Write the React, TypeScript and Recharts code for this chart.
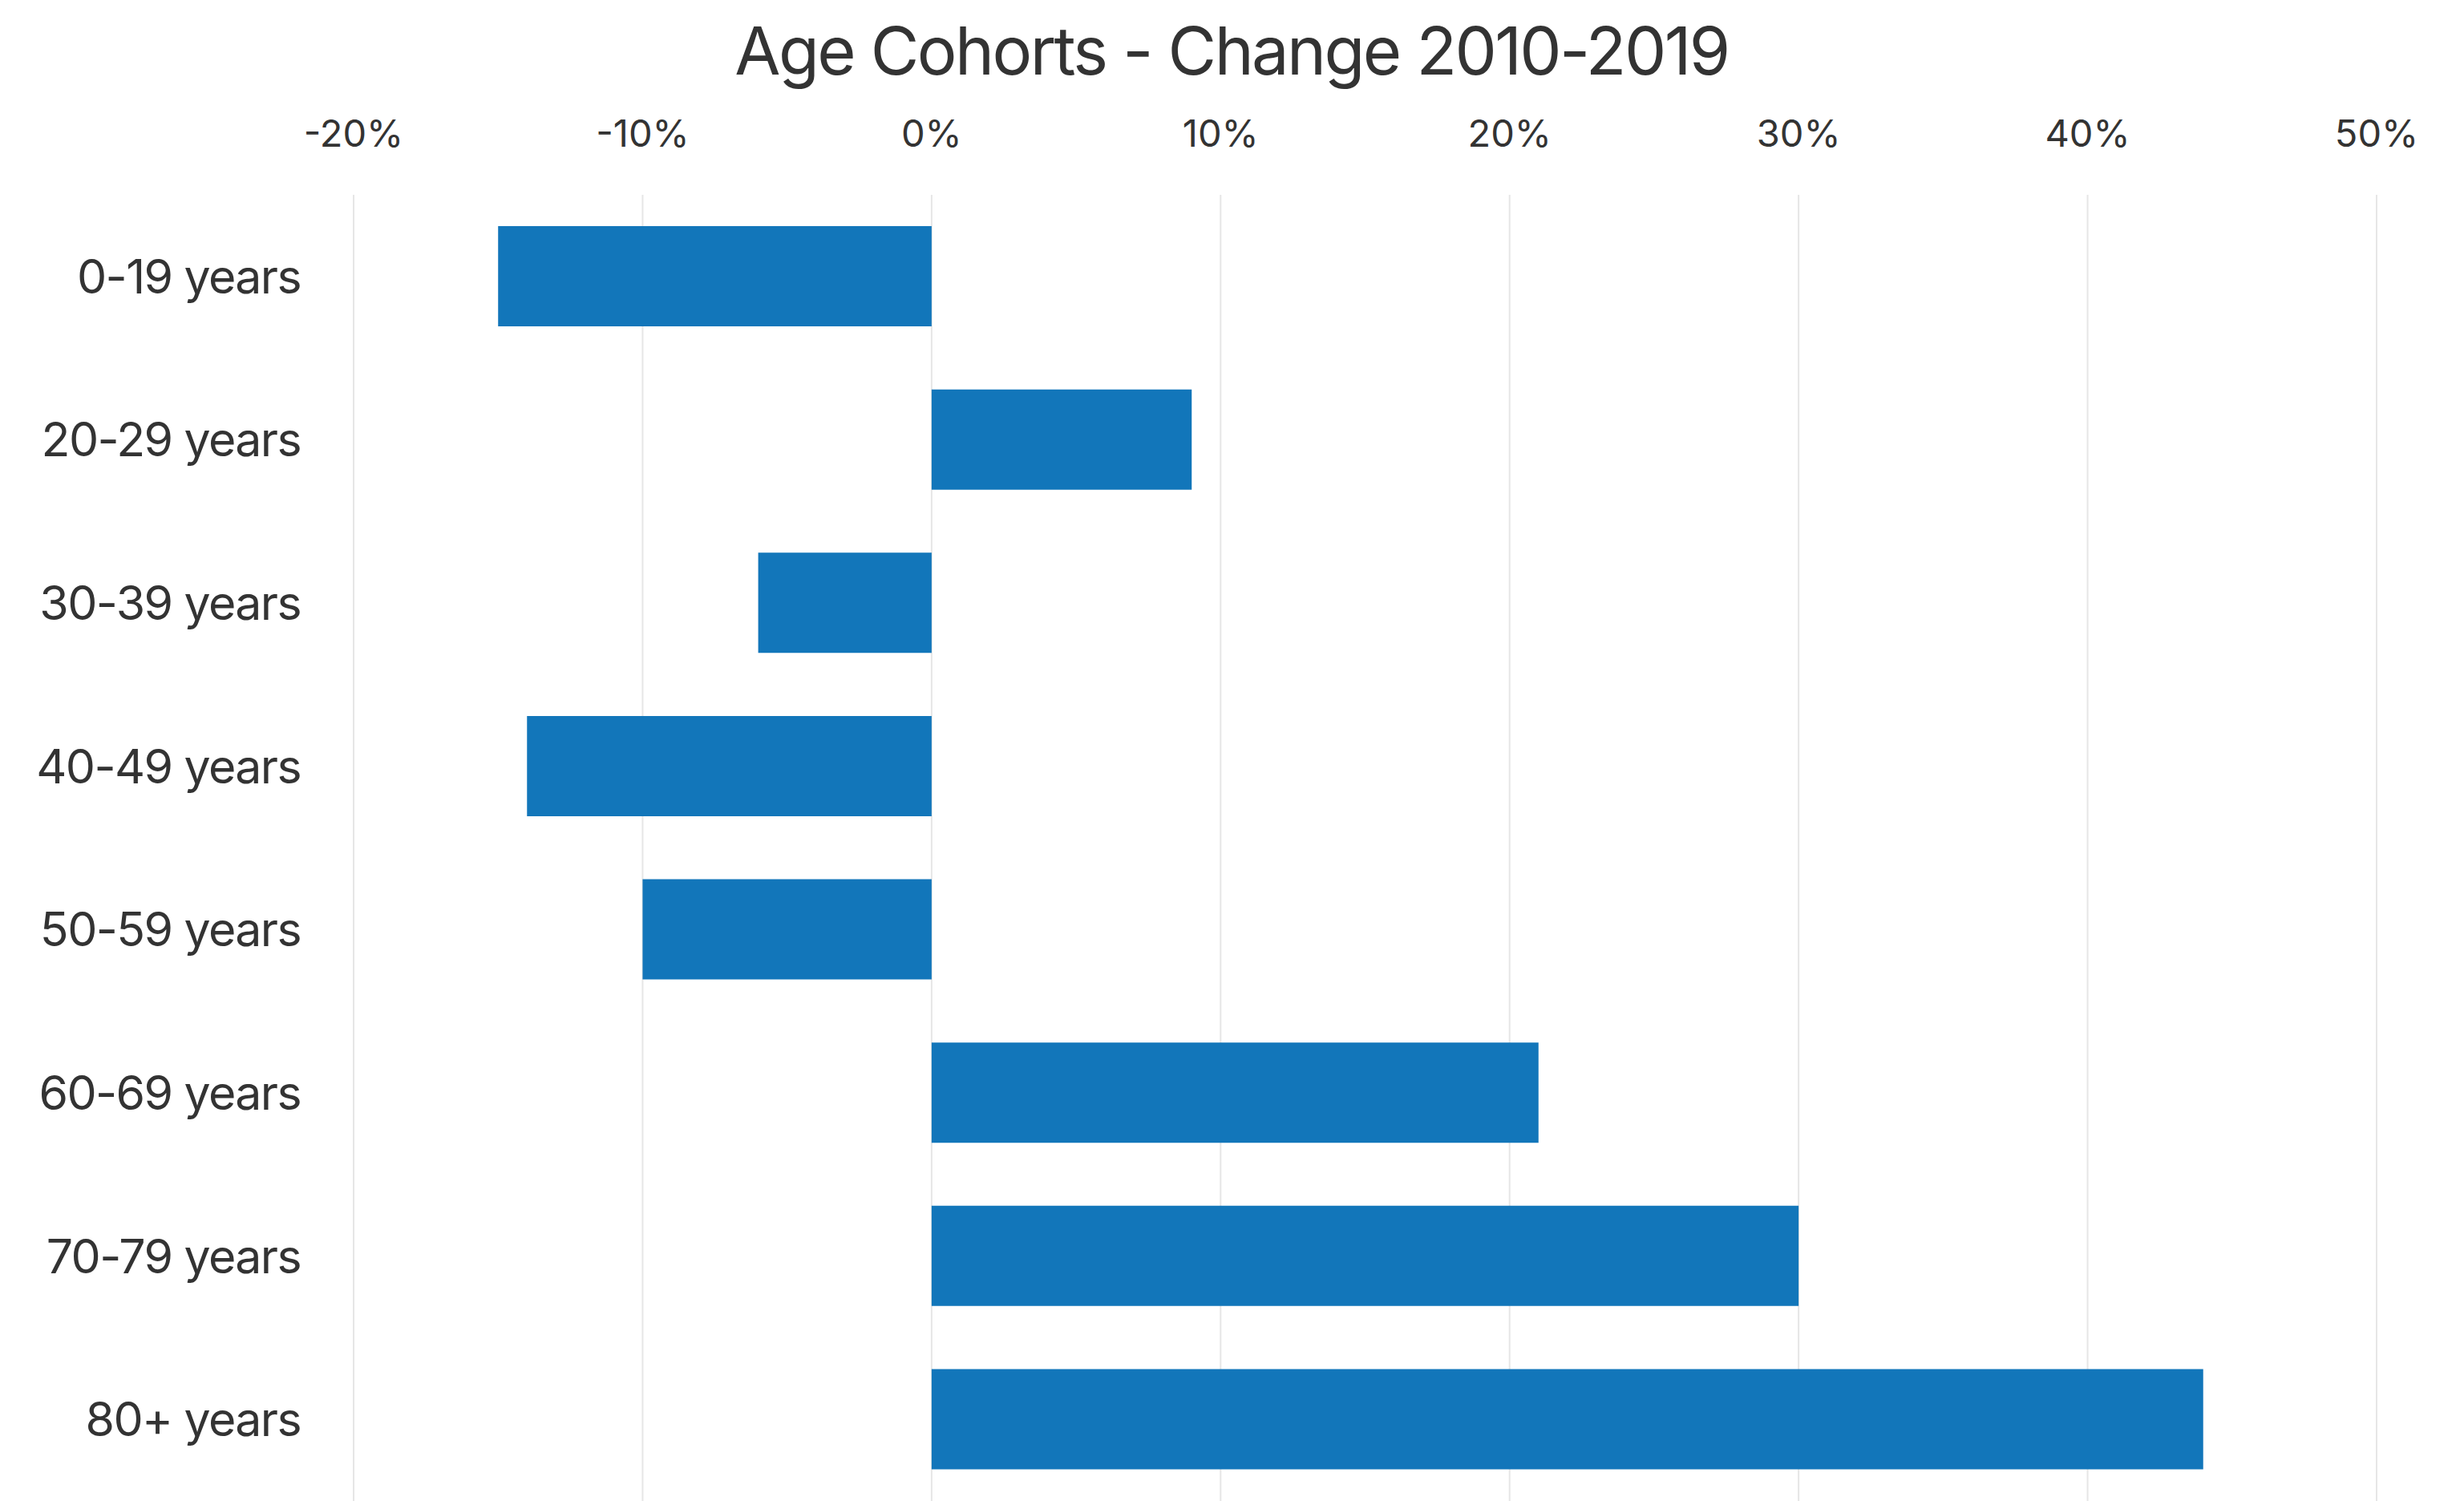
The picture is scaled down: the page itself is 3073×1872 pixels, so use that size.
import { BarChart, Bar, XAxis, YAxis, CartesianGrid } from "recharts";

const categories = [
  "0-19 years",
  "20-29 years",
  "30-39 years",
  "40-49 years",
  "50-59 years",
  "60-69 years",
  "70-79 years",
  "80+ years",
];

// percent change 2010-2019
const changeValues = [-15, 9, -6, -14, -10, 21, 30, 44];

const xTicks = [-20, -10, 0, 10, 20, 30, 40, 50];

const FONT = "Inter, 'Noto Sans', sans-serif";
const TEXT_COLOR = "#333333";

export default function App() {
  const data = categories.map((c, i) => ({ category: c, change: changeValues[i] }));

  return (
    <div style={{ position: "absolute", left: 0, top: 0, width: 3073, height: 1872, background: "#fff", fontFamily: FONT }}>
      <svg width={3073} height={120} style={{ position: "absolute", left: 0, top: 0 }}>
        <text
          x={1536}
          y={93}
          textAnchor="middle"
          fontSize={83}
          letterSpacing={-2.6}
          fill={TEXT_COLOR}
          fontFamily={FONT}
        >
          Age Cohorts - Change 2010-2019
        </text>
      </svg>
      <BarChart
        width={3073}
        height={1872}
        data={data}
        layout="vertical"
        barSize={125}
        margin={{ top: 183, right: 109, bottom: 0, left: 0 }}
      >
        <CartesianGrid horizontal={false} stroke="#e6e6e6" strokeWidth={2} />
        <XAxis
          type="number"
          orientation="top"
          domain={[-20, 50]}
          ticks={xTicks}
          tickFormatter={(v: number) => `${v}%`}
          axisLine={false}
          tickLine={false}
          tickSize={0}
          tickMargin={60}
          height={60}
          tick={{ fill: TEXT_COLOR, fontSize: 47, fontFamily: FONT }}
        />
        <YAxis
          type="category"
          dataKey="category"
          width={441}
          axisLine={false}
          tickLine={false}
          tickSize={0}
          tickMargin={66}
          interval={0}
          tick={{ fill: TEXT_COLOR, fontSize: 59, fontFamily: FONT, letterSpacing: -1.6 }}
        />
        <Bar dataKey="change" fill="#1276ba" isAnimationActive={false} />
      </BarChart>
    </div>
  );
}
